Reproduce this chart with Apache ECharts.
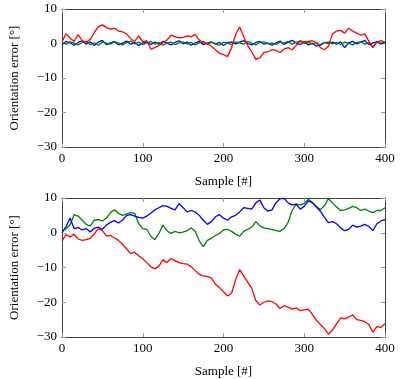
<!DOCTYPE html>
<html>
<head>
<meta charset="utf-8">
<script src="https://cdn.jsdelivr.net/npm/echarts/dist/echarts.min.js"></script>
<style>
  html, body { margin: 0; padding: 0; background: #fff; }
  #chart { width: 400px; height: 379px; }
</style>
</head>
<body>
<div id="chart"></div>
<script>
// sample index, every 5th sample
var samples = [];
for (var s = 0; s <= 400; s += 5) samples.push(s);

// top plot
var red1 = [0.5,2.8,1.6,0.6,2.6,0.8,0.4,1.2,3.2,4.8,5.4,4.6,4.2,4.4,3.6,3.4,2.8,1.4,0.6,2.2,
  0.4,0.8,-1.6,-1.2,-0.6,0.2,1.0,2.4,2.0,1.6,1.8,2.2,2.0,2.6,1.0,0.2,0.0,-0.8,-1.8,-2.8,
  -3.2,-3.8,-1.2,2.6,4.8,2.0,-0.6,-2.4,-4.6,-4.2,-2.6,-2.4,-1.8,-2.0,-2.6,-1.6,-1.2,-1.8,-0.6,0.8,
  0.4,0.6,0.8,0.2,-1.2,-1.8,-0.8,2.8,3.6,3.8,3.0,4.4,3.6,3.0,2.4,2.8,0.6,-1.2,0.4,0.8,0.4];
var blue1 = [-0.4,0.6,0.2,-0.5,0.3,0.8,-0.2,0.5,-0.6,0.4,0.9,-0.3,0.2,0.6,-0.4,0.1,0.7,-0.2,0.3,-0.6,
  0.2,0.5,-0.3,0.4,-0.2,0.6,0.1,-0.4,0.3,0.8,-0.1,0.4,-0.5,0.2,0.6,-0.3,0.1,0.5,-0.2,0.3,
  -0.6,0.2,0.5,-0.1,0.4,0.8,0.0,-0.4,0.3,0.6,-0.2,0.1,-0.5,0.2,0.7,-0.3,0.4,0.9,0.2,-0.3,
  0.5,-0.4,0.1,-0.8,-0.3,0.3,0.0,0.4,-0.2,0.5,-1.2,0.2,0.6,-0.1,0.4,0.9,-0.3,0.2,0.5,-0.2,0.3];
var green1 = [0.3,-0.2,0.5,0.1,-0.4,0.3,0.6,-0.3,0.2,-0.5,0.4,0.1,-0.2,0.5,0.2,-0.4,0.3,0.7,-0.1,0.4,
  -0.3,0.2,0.6,-0.2,0.3,-0.5,0.1,0.4,-0.3,0.2,0.5,-0.1,0.3,-0.4,0.2,0.6,-0.2,0.3,0.0,-0.5,
  0.4,0.1,-0.3,0.5,0.2,-0.2,0.6,0.1,-0.4,0.3,0.5,-0.1,0.2,-0.3,0.4,0.1,0.6,-0.2,0.3,0.7,
  0.0,0.4,-0.2,0.3,-0.6,0.2,0.5,-0.1,0.3,-0.3,0.4,0.1,-0.4,0.3,0.5,-0.2,0.2,-1.0,0.4,0.1,0.3];

// bottom plot
var red2 = [-2.4,-0.5,-1.2,-0.4,-1.8,-2.2,-2.0,-1.6,-0.3,1.2,0.6,-0.9,-0.8,-1.5,-2.2,-3.4,-4.6,-6.0,-5.6,-6.6,
  -7.5,-8.6,-9.8,-10.4,-9.6,-7.8,-8.6,-7.4,-8.0,-8.6,-8.9,-9.0,-9.8,-10.9,-12.0,-12.4,-12.6,-13.0,-14.8,-15.8,
  -17.0,-18.2,-17.4,-13.5,-10.6,-12.4,-14.2,-16.0,-19.5,-20.8,-20.0,-19.6,-19.8,-20.5,-21.8,-21.0,-21.4,-22.0,-21.6,-22.4,
  -22.2,-22.0,-23.5,-25.2,-26.4,-27.6,-29.2,-28.0,-26.2,-24.5,-24.8,-24.3,-23.6,-25.0,-25.2,-25.6,-26.4,-28.6,-27.0,-27.2,-26.2];
var blue2 = [0.0,1.8,4.2,1.2,1.5,0.8,1.2,0.2,1.3,1.6,1.0,2.2,3.0,3.5,2.8,3.6,5.0,5.2,4.8,4.4,
  4.2,4.8,5.6,6.6,7.2,7.8,7.6,7.0,6.6,8.4,7.2,6.0,6.4,6.0,5.0,3.6,2.4,3.2,4.6,5.2,
  4.2,3.6,4.6,5.0,6.0,7.2,7.0,6.8,8.6,9.4,7.2,6.2,6.6,8.6,9.8,9.9,8.6,8.0,8.2,6.8,
  7.6,9.2,8.6,7.4,6.2,4.4,2.9,3.2,2.6,1.4,0.6,1.0,2.2,1.6,1.9,2.4,1.8,0.6,2.6,3.4,3.8];
var green2 = [0.4,1.2,2.2,5.2,4.8,3.6,2.4,1.9,3.6,3.8,3.4,4.2,5.8,6.6,5.6,5.0,5.4,5.8,5.6,2.6,
  1.2,1.0,-1.0,-2.0,-0.2,2.2,0.6,-0.2,0.4,0.0,0.2,0.6,1.4,0.4,-2.4,-4.0,-2.2,-1.6,-0.8,-0.2,
  0.8,1.0,0.4,-0.4,-1.0,0.4,1.0,1.6,3.2,2.0,1.4,1.2,1.0,0.6,0.4,1.2,3.0,6.4,8.2,8.0,
  8.4,9.6,8.8,7.6,6.6,7.8,9.8,8.6,7.4,6.4,6.6,7.0,7.6,7.2,6.4,6.8,6.2,5.8,6.4,6.4,7.2];

var xTicks = [0, 100, 200, 300, 400];
var yTicks = [-30, -20, -10, 0, 10];

function pairs(vals) {
  return samples.map(function (x, i) { return [x, vals[i]]; });
}

var font = 'Liberation Serif';
var fmt = function (v) { return String(v).replace('-', '\u2212'); };

function xAxes(gi) {
  return [{
    gridIndex: gi, type: 'value', min: xTicks[0], max: xTicks[xTicks.length - 1], interval: 100,
    name: 'Sample [#]', nameLocation: 'middle', nameGap: 28,
    nameTextStyle: { fontFamily: font, fontSize: 13, color: '#000' },
    axisLine: { show: true, onZero: false, lineStyle: { color: '#444', width: 1 } },
    axisTick: { inside: true, length: 4, lineStyle: { color: '#999' } },
    axisLabel: { fontFamily: font, fontSize: 13, color: '#000', margin: 5, formatter: fmt },
    splitLine: { show: false }
  }, {
    gridIndex: gi, type: 'value', position: 'top', min: 0, max: 400, interval: 100,
    axisLine: { show: true, onZero: false, lineStyle: { color: '#444', width: 1 } },
    axisTick: { inside: true, length: 4, lineStyle: { color: '#999' } },
    axisLabel: { show: false }, splitLine: { show: false }
  }];
}

function yAxes(gi) {
  return [{
    gridIndex: gi, type: 'value', min: yTicks[0], max: yTicks[yTicks.length - 1], interval: 10,
    name: 'Orientation error [°]', nameLocation: 'middle', nameGap: 41,
    nameTextStyle: { fontFamily: font, fontSize: 13, color: '#000' },
    axisLine: { show: true, onZero: false, lineStyle: { color: '#444', width: 1 } },
    axisTick: { inside: true, length: 4, lineStyle: { color: '#999' } },
    axisLabel: { fontFamily: font, fontSize: 13, color: '#000', margin: 5, formatter: fmt },
    splitLine: { show: false }
  }, {
    gridIndex: gi, type: 'value', position: 'right', min: -30, max: 10, interval: 10,
    axisLine: { show: true, onZero: false, lineStyle: { color: '#444', width: 1 } },
    axisTick: { inside: true, length: 4, lineStyle: { color: '#999' } },
    axisLabel: { show: false }, splitLine: { show: false }
  }];
}

function line(vals, color, xi, yi) {
  return {
    type: 'line', data: pairs(vals), xAxisIndex: xi, yAxisIndex: yi,
    showSymbol: false, symbol: 'none', animation: false,
    lineStyle: { color: color, width: 1.3 }
  };
}

var chart = echarts.init(document.getElementById('chart'), null, { renderer: 'canvas' });
chart.setOption({
  animation: false,
  backgroundColor: '#fff',
  grid: [
    { left: 60, right: 15, top: 9, height: 138 },
    { left: 60, right: 15, top: 198, height: 139 }
  ],
  xAxis: xAxes(0).concat(xAxes(1)),
  yAxis: yAxes(0).concat(yAxes(1)),
  series: [
    line(blue1, '#0000ff', 0, 0),
    line(green1, '#008000', 0, 0),
    line(red1, '#ff0000', 0, 0),
    line(red2, '#ff0000', 2, 2),
    line(green2, '#008000', 2, 2),
    line(blue2, '#0000ff', 2, 2)
  ]
});
</script>
</body>
</html>
